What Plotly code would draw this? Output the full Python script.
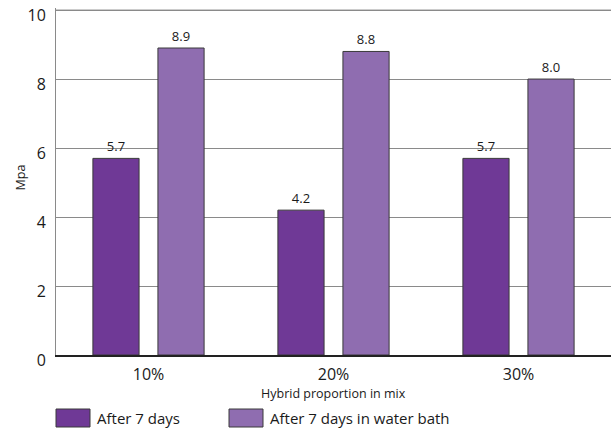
import plotly.graph_objects as go

categories = ["10%", "20%", "30%"]
series_names = ["After 7 days", "After 7 days in water bath"]
after_7_days = [5.7, 4.2, 5.7]
after_7_days_water = [8.9, 8.8, 8.0]
y_ticks = [0, 2, 4, 6, 8, 10]

colors = ["#6F3996", "#8F6DB0"]
FONT = "Open Sans, DejaVu Sans, sans-serif"
GRID = "#8a8a8a"

W, H = 612, 432
L, R, T, B = 56, 1, 8, 77
pw, ph = W - L - R, H - T - B


def px(x):  # pixel x -> paper
    return (x - L) / pw


def py(y):  # pixel y -> paper
    return (H - B - y) / ph


fig = go.Figure()
for name, vals, col in zip(series_names, [after_7_days, after_7_days_water], colors):
    fig.add_trace(go.Bar(
        x=categories, y=vals, name=name,
        marker=dict(color=col, line=dict(color="#3a3a3a", width=1)),
        text=[f"{v:.1f}" for v in vals], textposition="outside",
        textfont=dict(size=13, color="#1a1a1a", family=FONT),
        cliponaxis=False, showlegend=False, hoverinfo="skip",
    ))

fig.update_layout(
    width=W, height=H,
    margin=dict(l=L, r=R, t=T, b=B, autoexpand=False),
    paper_bgcolor="white", plot_bgcolor="white",
    barmode="group", bargap=0.297, bargroupgap=0.29,
    font=dict(family=FONT, color="#1a1a1a"),
    xaxis=dict(range=[-0.5, 2.5], showline=True, linecolor="#222", linewidth=1.5,
               tickfont=dict(size=16, color="#1a1a1a"), ticks="", ticklabelstandoff=4,
               showgrid=False, automargin=False),
    yaxis=dict(range=[0, 10.06], tickvals=y_ticks, showgrid=True, gridcolor=GRID,
               gridwidth=1, showline=True, linecolor=GRID, linewidth=1,
               tickfont=dict(size=16, color="#1a1a1a"), ticks="", ticklabelstandoff=6,
               ticklabelshift=5, ticklabeloverflow="allow", zeroline=False,
               automargin=False),
    showlegend=False,
)

# top gridline (the edge gridline can be dropped by plotly)
fig.add_shape(type="line", xref="paper", yref="y", x0=0, x1=1, y0=y_ticks[-1], y1=y_ticks[-1],
              line=dict(color=GRID, width=1), layer="below")

fig.add_annotation(text="Mpa", xref="paper", yref="paper", x=px(19.5), y=py(178),
                   textangle=-90, showarrow=False, font=dict(size=12.5, color="#1a1a1a"),
                   xanchor="center", yanchor="middle")
fig.add_annotation(text="Hybrid proportion in mix", xref="paper", yref="paper", x=px(333),
                   y=py(393), showarrow=False, font=dict(size=12.5, color="#1a1a1a"),
                   xanchor="center", yanchor="middle")

# custom legend
sw_x = [56, 229]
for i, (name, col) in enumerate(zip(series_names, colors)):
    x0 = sw_x[i]
    fig.add_shape(type="rect", xref="paper", yref="paper",
                  x0=px(x0), x1=px(x0 + 34), y0=py(427), y1=py(409),
                  fillcolor=col, line=dict(color="#3a3a3a", width=1))
    fig.add_annotation(text=name, xref="paper", yref="paper", x=px(x0 + 39), y=py(418),
                       showarrow=False, xanchor="left", yanchor="middle",
                       font=dict(size=15, color="#1a1a1a"))

fig.write_html("out.html", config={"displayModeBar": False},
               post_script="document.body.style.margin='0';document.body.style.overflow='hidden';")
